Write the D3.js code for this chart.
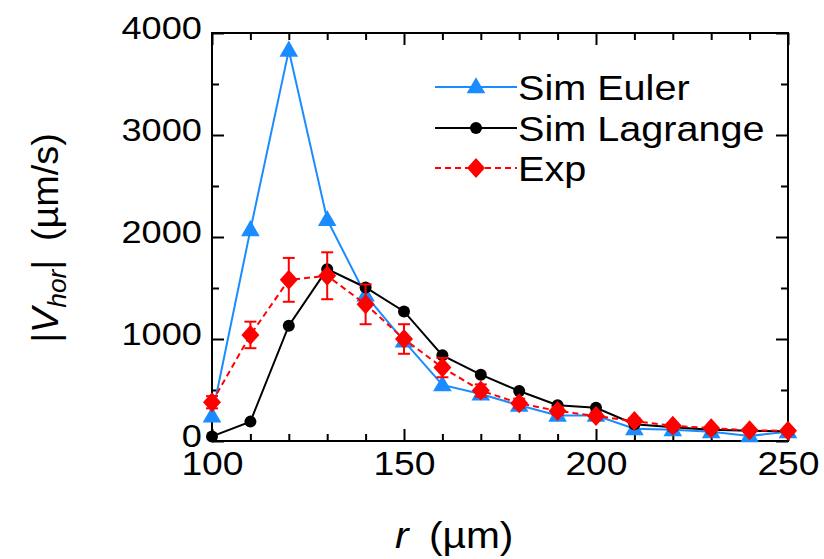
<!DOCTYPE html>
<html lang="en">
<head>
<meta charset="utf-8">
<script src="https://d3js.org/d3.v7.min.js"></script>
<style>
  body { margin: 0; background: #fff; }
  svg text { font-family: "Liberation Sans", Arial, sans-serif; fill: #000; }
</style>
</head>
<body>
<script>
// data
const radius   = [100, 110, 120, 130, 140, 150, 160, 170, 180, 190, 200, 210, 220, 230, 240, 250];
const simEuler = [245, 2070, 3830, 2170, 1430, 980, 550, 460, 350, 250, 250, 120, 110, 90, 50, 90];
const simLagr  = [45, 190, 1130, 1685, 1505, 1270, 840, 650, 490, 350, 325, 165, 135, 110, 100, 95];
const expVal   = [380, 1040, 1580, 1620, 1340, 1000, 720, 495, 370, 295, 245, 195, 150, 125, 105, 100];
const expErr   = [60, 130, 215, 230, 195, 145, 95, 60, 45, 40, 35, 30, 25, 20, 20, 20];
const xTicks = [100, 150, 200, 250];
const yTicks = [0, 1000, 2000, 3000, 4000];
const legendNames = ["Sim Euler", "Sim Lagrange", "Exp"];

const W = 824, H = 559;
const pL = 212, pR = 788, pT = 33, pB = 441;
const blue = "#1a8cff", red = "#ff0000";

const svg = d3.select("body").append("svg").attr("width", W).attr("height", H);

const x = d3.scaleLinear().domain([100, 250]).range([pL, pR]);
const y = d3.scaleLinear().domain([0, 4000]).range([pB, pT]);

const minorX = d3.range(100, 251, 10).filter(v => v % 50 != 0);
const minorY = d3.range(500, 4000, 1000);

function stretch(sel) {
  sel.selectAll("text").attr("transform", "scale(1.13,1)");
}

// major ticks with labels
svg.append("g").attr("transform", "translate(0," + pB + ")")
  .call(d3.axisBottom(x).tickValues(xTicks).tickSize(-12).tickPadding(10))
  .call(g => g.selectAll("text").style("font-size", "33px").attr("dy", "0.74em"))
  .call(stretch);
svg.append("g").attr("transform", "translate(" + pL + ",0)")
  .call(d3.axisLeft(y).tickValues(yTicks).tickFormat(d3.format("d")).tickSize(-12).tickPadding(9))
  .call(g => g.selectAll("text").style("font-size", "32px").attr("dy", "0.18em"))
  .call(stretch);
svg.append("g").attr("transform", "translate(0," + pT + ")")
  .call(d3.axisTop(x).tickValues(xTicks).tickSize(-12).tickFormat(""));
svg.append("g").attr("transform", "translate(" + pR + ",0)")
  .call(d3.axisRight(y).tickValues(yTicks).tickSize(-12).tickFormat(""));

// minor ticks
svg.append("g").attr("transform", "translate(0," + pB + ")")
  .call(d3.axisBottom(x).tickValues(minorX).tickSize(-7).tickFormat(""));
svg.append("g").attr("transform", "translate(0," + pT + ")")
  .call(d3.axisTop(x).tickValues(minorX).tickSize(-7).tickFormat(""));
svg.append("g").attr("transform", "translate(" + pL + ",0)")
  .call(d3.axisLeft(y).tickValues(minorY).tickSize(-7).tickFormat(""));
svg.append("g").attr("transform", "translate(" + pR + ",0)")
  .call(d3.axisRight(y).tickValues(minorY).tickSize(-7).tickFormat(""));

svg.selectAll(".domain").remove();
svg.selectAll(".tick line").attr("stroke", "#000").attr("stroke-width", 2);

svg.append("rect")
  .attr("x", pL).attr("y", pT)
  .attr("width", pR - pL).attr("height", pB - pT)
  .attr("fill", "none").attr("stroke", "#000").attr("stroke-width", 2);

const line = d3.line().x(d => x(d[0])).y(d => y(d[1]));
const pts = vals => radius.map((r, i) => [r, vals[i]]);

const triangle = d3.symbol().type(d3.symbolTriangle).size(150);
const diamond = "M0,-10L9,0L0,10L-9,0Z";

// Sim Euler
svg.append("path").datum(pts(simEuler)).attr("d", line)
  .attr("fill", "none").attr("stroke", blue).attr("stroke-width", 2);
svg.selectAll(".tri").data(pts(simEuler)).enter().append("path")
  .attr("d", triangle)
  .attr("transform", d => "translate(" + x(d[0]) + "," + (y(d[1]) + 1) + ")")
  .attr("fill", blue);

// Sim Lagrange
svg.append("path").datum(pts(simLagr)).attr("d", line)
  .attr("fill", "none").attr("stroke", "#000").attr("stroke-width", 2);
svg.selectAll(".dot").data(pts(simLagr)).enter().append("circle")
  .attr("cx", d => x(d[0])).attr("cy", d => y(d[1])).attr("r", 6)
  .attr("fill", "#000");

// Exp with error bars
svg.append("path").datum(pts(expVal)).attr("d", line)
  .attr("fill", "none").attr("stroke", red).attr("stroke-width", 2)
  .attr("stroke-dasharray", "6,4");
const eb = svg.selectAll(".err").data(radius).enter().append("g")
  .attr("stroke", red).attr("stroke-width", 2);
eb.append("line")
  .attr("x1", d => x(d)).attr("x2", d => x(d))
  .attr("y1", (d, i) => y(expVal[i] + expErr[i]))
  .attr("y2", (d, i) => y(expVal[i] - expErr[i]));
eb.append("line")
  .attr("x1", d => x(d) - 6).attr("x2", d => x(d) + 6)
  .attr("y1", (d, i) => y(expVal[i] + expErr[i]))
  .attr("y2", (d, i) => y(expVal[i] + expErr[i]));
eb.append("line")
  .attr("x1", d => x(d) - 6).attr("x2", d => x(d) + 6)
  .attr("y1", (d, i) => y(expVal[i] - expErr[i]))
  .attr("y2", (d, i) => y(expVal[i] - expErr[i]));
svg.selectAll(".dia").data(pts(expVal)).enter().append("path")
  .attr("d", diamond)
  .attr("transform", d => "translate(" + x(d[0]) + "," + y(d[1]) + ")")
  .attr("fill", red);

// legend
const legY = [87, 128, 168];
const lg = svg.append("g");
legendNames.forEach((name, i) => {
  const g = lg.append("g").attr("transform", "translate(0," + legY[i] + ")");
  const col = i == 0 ? blue : (i == 1 ? "#000" : red);
  g.append("line").attr("x1", 435).attr("x2", 517).attr("y1", 0).attr("y2", 0)
    .attr("stroke", col).attr("stroke-width", 2)
    .attr("stroke-dasharray", i == 2 ? "6,4" : null);
  if (i == 0) g.append("path").attr("d", triangle).attr("transform", "translate(476,1)").attr("fill", blue);
  if (i == 1) g.append("circle").attr("cx", 476).attr("r", 6).attr("fill", "#000");
  if (i == 2) g.append("path").attr("d", diamond).attr("transform", "translate(476,0)").attr("fill", red);
  g.append("text").attr("transform", "translate(518,13) scale(1.1,1)")
    .style("font-size", "36px").text(name);
});

// axis titles
const xt = svg.append("text").attr("transform", "translate(395,548) scale(1.1,1)")
  .style("font-size", "37px");
xt.append("tspan").style("font-style", "italic").text("r");
xt.append("tspan").attr("dx", "0.5em").text("(µm)");

const yt = svg.append("text").attr("transform", "translate(58,238) rotate(-90) scale(1.05,1)")
  .attr("text-anchor", "middle").style("font-size", "36px");
yt.append("tspan").text("|");
yt.append("tspan").style("font-style", "italic").text("V");
yt.append("tspan").style("font-style", "italic").style("font-size", "25px").attr("dy", "0.3em").text("hor");
yt.append("tspan").attr("dy", "-0.2em").text("|");
yt.append("tspan").attr("dx", "0.5em").text("(µm/s)");
</script>
</body>
</html>
